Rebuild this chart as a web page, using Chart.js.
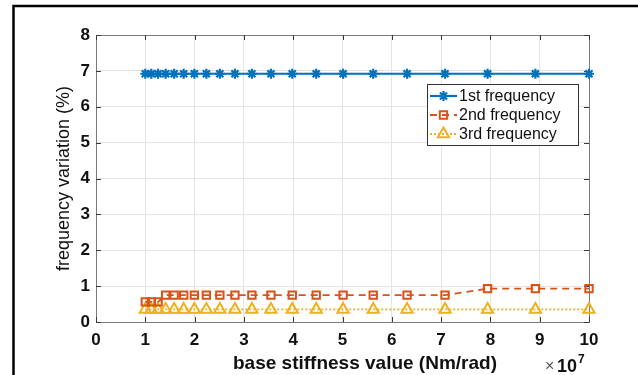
<!DOCTYPE html>
<html>
<head>
<meta charset="utf-8">
<title>Frequency variation vs base stiffness</title>
<script src="https://cdn.jsdelivr.net/npm/chart.js@4.4.1/dist/chart.umd.min.js"></script>
<style>
  html, body { margin: 0; padding: 0; background: #fff; }
  #wrap { width: 638px; height: 375px; }
</style>
</head>
<body>
<div id="wrap"><canvas id="c" width="638" height="375"></canvas></div>
<script>
// Base stiffness values (Nm/rad)
const stiffness = [
  1.000e7, 1.122e7, 1.259e7, 1.413e7, 1.585e7, 1.778e7, 1.995e7,
  2.239e7, 2.512e7, 2.818e7, 3.162e7, 3.548e7, 3.981e7, 4.467e7,
  5.012e7, 5.623e7, 6.310e7, 7.079e7, 7.943e7, 8.913e7, 10.000e7
];
// Frequency variation (%) for each mode
const firstFreq = [
  6.92, 6.92, 6.92, 6.92, 6.92, 6.92, 6.92,
  6.92, 6.92, 6.92, 6.92, 6.92, 6.92, 6.92,
  6.92, 6.92, 6.92, 6.92, 6.92, 6.92, 6.92
];
const secondFreq = [
  0.56, 0.56, 0.56, 0.75, 0.75, 0.75, 0.75,
  0.75, 0.75, 0.75, 0.75, 0.75, 0.75, 0.75,
  0.75, 0.75, 0.75, 0.75, 0.93, 0.93, 0.93
];
const thirdFreq = [
  0.35, 0.35, 0.35, 0.35, 0.35, 0.35, 0.35,
  0.35, 0.35, 0.35, 0.35, 0.35, 0.35, 0.35,
  0.35, 0.35, 0.35, 0.35, 0.35, 0.35, 0.35
];
const seriesNames = ['1st frequency', '2nd frequency', '3rd frequency'];
// Axis ticks (x in units of 10^7 Nm/rad)
const xTicks = [0, 1, 2, 3, 4, 5, 6, 7, 8, 9, 10];
const yTicks = [0, 1, 2, 3, 4, 5, 6, 7, 8];
const xExponent = 7;

const FONT = '"Liberation Sans", Arial, Helvetica, sans-serif';
const xScaleFactor = Math.pow(10, xExponent);

function toPoints(ys) {
  return stiffness.map((x, i) => ({ x: x, y: ys[i] }));
}

// Fallback marker painter in case helpers are not exposed
function paintMarker(ctx, style, r, x, y) {
  if (Chart.helpers && Chart.helpers.drawPoint) {
    Chart.helpers.drawPoint(ctx, { pointStyle: style, radius: r, rotation: 0, borderWidth: ctx.lineWidth }, x, y);
    return;
  }
  ctx.beginPath();
  if (style === 'rect') {
    const s = r * Math.SQRT1_2;
    ctx.rect(x - s, y - s, 2 * s, 2 * s);
  } else if (style === 'triangle') {
    ctx.moveTo(x, y - r);
    ctx.lineTo(x + r * 0.866, y + r * 0.5);
    ctx.lineTo(x - r * 0.866, y + r * 0.5);
    ctx.closePath();
  } else {
    for (let a = 0; a < 4; a++) {
      const t = a * Math.PI / 4;
      ctx.moveTo(x - Math.cos(t) * r, y - Math.sin(t) * r);
      ctx.lineTo(x + Math.cos(t) * r, y + Math.sin(t) * r);
    }
  }
  ctx.stroke();
}

// Axes box, inward tick marks and the figure's outer edge lines
const axesBox = {
  id: 'axesBox',
  beforeDraw(chart) {
    const { ctx, width, height } = chart;
    ctx.save();
    ctx.fillStyle = '#fff';
    ctx.fillRect(0, 0, width, height);
    ctx.strokeStyle = '#000';
    ctx.lineWidth = 2.5;
    ctx.beginPath();
    ctx.moveTo(13.5, height);
    ctx.lineTo(13.5, 6);
    ctx.lineTo(width, 6);
    ctx.stroke();
    ctx.restore();
  },
  beforeDatasetsDraw(chart) {
    const { ctx, chartArea: a, scales } = chart;
    ctx.save();
    ctx.strokeStyle = '#7a7a7a';
    ctx.lineWidth = 1;
    ctx.strokeRect(Math.round(a.left) + 0.5, Math.round(a.top) + 0.5,
                   Math.round(a.right - a.left), Math.round(a.bottom - a.top));
    ctx.strokeStyle = '#3a3a3a';
    ctx.beginPath();
    const tl = 5;
    xTicks.forEach(v => {
      const px = Math.round(scales.x.getPixelForValue(v * xScaleFactor)) + 0.5;
      ctx.moveTo(px, a.bottom); ctx.lineTo(px, a.bottom - tl);
      ctx.moveTo(px, a.top); ctx.lineTo(px, a.top + tl);
    });
    yTicks.forEach(v => {
      const py = Math.round(scales.y.getPixelForValue(v)) + 0.5;
      ctx.moveTo(a.left, py); ctx.lineTo(a.left + tl, py);
      ctx.moveTo(a.right, py); ctx.lineTo(a.right - tl, py);
    });
    ctx.stroke();
    ctx.restore();
  },
  afterDraw(chart) {
    const { ctx, chartArea: a } = chart;
    ctx.save();
    // y-axis title
    ctx.fillStyle = '#111';
    ctx.font = '18px ' + FONT;
    ctx.textAlign = 'center';
    ctx.textBaseline = 'middle';
    ctx.translate(64, (a.top + a.bottom) / 2);
    ctx.rotate(-Math.PI / 2);
    ctx.fillText('frequency variation (%)', 0, 0);
    ctx.restore();

    ctx.save();
    // x-axis title
    ctx.fillStyle = '#111';
    ctx.font = 'bold 19px ' + FONT;
    ctx.textAlign = 'center';
    ctx.textBaseline = 'alphabetic';
    ctx.fillText('base stiffness value (Nm/rad)', 365, 369);
    // exponent label
    ctx.font = '16px ' + FONT;
    ctx.fillStyle = '#555';
    ctx.textAlign = 'left';
    ctx.fillText('\u00d7', 545, 371);
    ctx.font = 'bold 18px ' + FONT;
    ctx.fillStyle = '#111';
    ctx.fillText('10', 557, 372);
    ctx.font = 'bold 12px ' + FONT;
    ctx.fillText(String(xExponent), 578, 363);
    ctx.restore();

    // legend
    const box = { x: 427.5, y: 84.5, w: 151, h: 61 };
    ctx.save();
    ctx.fillStyle = '#fff';
    ctx.fillRect(box.x, box.y, box.w, box.h);
    ctx.strokeStyle = '#333';
    ctx.lineWidth = 1;
    ctx.strokeRect(box.x, box.y, box.w, box.h);
    ctx.font = '16px ' + FONT;
    ctx.textBaseline = 'middle';
    ctx.textAlign = 'left';
    chart.data.datasets.forEach((ds, i) => {
      const y = 96 + i * 19;
      ctx.strokeStyle = ds.borderColor;
      ctx.lineWidth = ds.borderWidth;
      ctx.setLineDash(ds.borderDash || []);
      ctx.beginPath();
      ctx.moveTo(430, y); ctx.lineTo(457, y);
      ctx.stroke();
      ctx.setLineDash([]);
      ctx.lineWidth = ds.pointBorderWidth;
      ctx.fillStyle = 'rgba(0,0,0,0)';
      paintMarker(ctx, ds.pointStyle, ds.pointRadius, 443.5, y);
      ctx.fillStyle = '#111';
      ctx.fillText(ds.label, 459, y + 1);
    });
    ctx.restore();
  }
};

const tickFont = { family: FONT, size: 17, weight: 'bold' };

new Chart(document.getElementById('c'), {
  type: 'line',
  data: {
    datasets: [
      {
        label: seriesNames[0],
        data: toPoints(firstFreq),
        borderColor: '#0072BD',
        borderWidth: 2.2,
        pointStyle: 'star',
        pointRadius: 5,
        pointBorderWidth: 2.2,
        pointBorderColor: '#0072BD',
        pointBackgroundColor: '#0072BD',
        clip: false
      },
      {
        label: seriesNames[1],
        data: toPoints(secondFreq),
        borderColor: '#D95319',
        borderWidth: 1.8,
        borderDash: [7, 5],
        pointStyle: 'rect',
        pointRadius: 5.2,
        pointBorderWidth: 2,
        pointBorderColor: '#D95319',
        pointBackgroundColor: 'rgba(0,0,0,0)',
        clip: false
      },
      {
        label: seriesNames[2],
        data: toPoints(thirdFreq),
        borderColor: '#EDB120',
        borderWidth: 1.8,
        borderDash: [2, 2],
        pointStyle: 'triangle',
        pointRadius: 6.5,
        pointBorderWidth: 2,
        pointBorderColor: '#EDB120',
        pointBackgroundColor: 'rgba(0,0,0,0)',
        clip: false
      }
    ]
  },
  options: {
    responsive: false,
    animation: false,
    devicePixelRatio: 1,
    layout: { padding: { top: 35, right: 49, left: 0, bottom: 0 } },
    plugins: { legend: { display: false }, tooltip: { enabled: false } },
    elements: { line: { tension: 0 } },
    scales: {
      x: {
        type: 'linear',
        min: xTicks[0] * xScaleFactor,
        max: xTicks[xTicks.length - 1] * xScaleFactor,
        afterBuildTicks: s => { s.ticks = xTicks.map(v => ({ value: v * xScaleFactor })); },
        afterFit: s => { s.height = 53; },
        ticks: {
          callback: v => String(Math.round(v / xScaleFactor)),
          font: tickFont, color: '#111', padding: 8,
          maxRotation: 0, autoSkip: false
        },
        grid: { color: '#e4e4e4', drawTicks: false },
        border: { display: false }
      },
      y: {
        type: 'linear',
        min: yTicks[0],
        max: yTicks[yTicks.length - 1],
        afterBuildTicks: s => { s.ticks = yTicks.map(v => ({ value: v })); },
        afterFit: s => { s.width = 96; },
        ticks: { font: tickFont, color: '#111', padding: 6, autoSkip: false },
        grid: { color: '#e4e4e4', drawTicks: false },
        border: { display: false }
      }
    }
  },
  plugins: [axesBox]
});
</script>
</body>
</html>
